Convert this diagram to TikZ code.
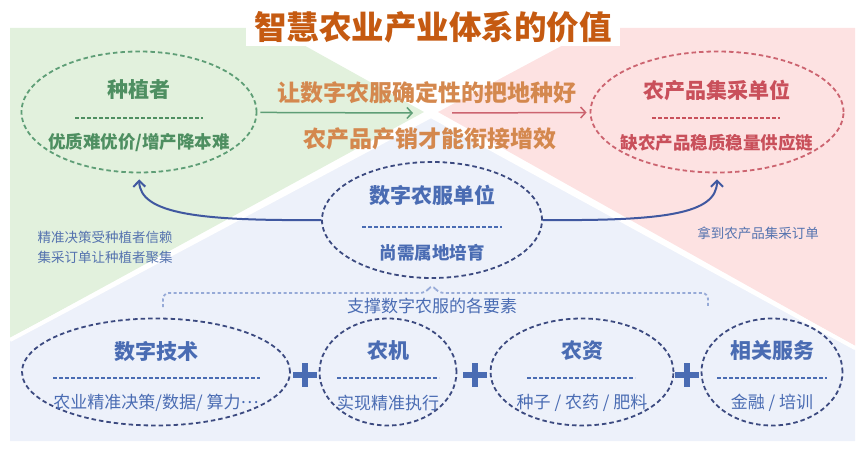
\documentclass[tikz,border=0pt]{standalone}
\usepackage{fontspec}
\setmainfont{Noto Sans CJK SC}
\usetikzlibrary{shapes.geometric,arrows.meta}

\definecolor{titlebrown}{HTML}{C55A11}
\definecolor{midorange}{HTML}{D4884E}
\definecolor{growgreen}{HTML}{4E8F61}
\definecolor{growline}{HTML}{5E9E76}
\definecolor{buyred}{HTML}{C9505B}
\definecolor{buyline}{HTML}{CC6470}
\definecolor{servblue}{HTML}{4A6CB3}
\definecolor{navyline}{HTML}{3C4A80}
\definecolor{arrowblue}{HTML}{4058A0}
\definecolor{notegray}{HTML}{5573AF}
\definecolor{bracegray}{HTML}{96AAD7}
\definecolor{bggreen}{HTML}{E2F1DD}
\definecolor{bgpink}{HTML}{FDE2E2}
\definecolor{bgblue}{HTML}{EDF1FA}

\begin{document}
\begin{tikzpicture}[x=1pt,y=-1pt,
        oval/.style={ellipse,draw,line width=1.8pt,dash pattern=on 4.5pt off 3pt,inner sep=0pt},
        headtext/.style={font=\fontsize{21}{21}\selectfont\bfseries},
        subtext/.style={font=\fontsize{17.5}{18}\selectfont\bfseries},
        basetext/.style={font=\fontsize{17}{17}\selectfont},
        notetext/.style={font=\fontsize{13.5}{14}\selectfont,text=notegray},
        sepline/.style={line width=1.4pt,dash pattern=on 4pt off 2pt},
        backarrow/.style={draw=arrowblue,line width=2pt,-{Straight Barb[length=6pt,width=12pt]}}
    ]
        \useasboundingbox (0,0) rectangle (865,449);

        % 绘制背景三块区域
        \fill[bggreen] (10,28) -- (273,28) -- (424,112) -- (10,338) -- cycle;
        \fill[bgpink] (595,28) -- (855,28) -- (855,346) -- (438,112) -- cycle;
        \fill[bgblue] (431,117) -- (855,350) -- (855,441) -- (10,441) -- (10,341) -- cycle;
        \draw[white,line width=4pt] (10,340) -- (431,116) -- (855,348);

        % 绘制标题
        \node[fill=white,inner xsep=8pt,minimum height=38pt,text=titlebrown,
            font=\fontsize{32.5}{33}\selectfont\bfseries] (title) at (433,27) {智慧农业产业体系的价值};

        % 绘制种植者
        \node[oval,draw=growline,minimum width=235pt,minimum height=121pt] (grower) at (139,112) {};
        \node[headtext,text=growgreen] (growerhead) at (139,90) {种植者};
        \draw[sepline,growgreen] (75,118) -- (203,118);
        \node[subtext,text=growgreen] (growersub) at (139,143) {优质难优价/增产降本难};

        % 绘制农产品集采单位
        \node[oval,draw=buyline,minimum width=253pt,minimum height=121pt] (buyer) at (717,112) {};
        \node[headtext,text=buyred] (buyerhead) at (717,90) {农产品集采单位};
        \draw[sepline,buyred] (652,118) -- (780,118);
        \node[subtext,text=buyred] (buyersub) at (717,143) {缺农产品稳质稳量供应链};

        % 绘制中间的两行字和箭头
        \node[font=\fontsize{23}{23}\selectfont\bfseries,text=midorange] (midtop) at (427,93) {让数字农服确定性的把地种好};
        \node[font=\fontsize{23}{23}\selectfont\bfseries,text=midorange] (midbot) at (430,139) {农产品产销才能衔接增效};
        \coordinate (gtip) at (413,113);
        \coordinate (ptail) at (452,113);
        \draw[draw=growline,line width=1.5pt,-{Straight Barb[length=5pt,width=11pt]},shorten <=3pt] (grower) -- (gtip);
        \draw[draw=buyline,line width=1.5pt,-{Straight Barb[length=5pt,width=11pt]},shorten >=3pt] (ptail) -- (buyer);

        % 绘制数字农服单位
        \node[oval,draw=navyline,minimum width=220pt,minimum height=116pt] (service) at (432,220) {};
        \node[headtext,text=servblue] (servicehead) at (432,195) {数字农服单位};
        \draw[sepline,servblue] (362,227) -- (502,227);
        \node[subtext,text=servblue] (servicesub) at (432,253) {尚需属地培育};

        % 绘制两条弯箭头
        \draw[backarrow,shorten >=6pt] (service.west) .. controls (200,221) and (140,214) .. (grower.south);
        \draw[backarrow,shorten >=6pt] (service.east) .. controls (664,221) and (717,214) .. (buyer.south);
        \node[notetext,anchor=west] (noteone) at (34,237) {精准决策受种植者信赖};
        \node[notetext,anchor=west] (notetwo) at (34,257) {集采订单让种植者聚集};
        \node[notetext] (notethree) at (758,233) {拿到农产品集采订单};

        % 绘制虚线括号
        \draw[bracegray,line width=1.8pt,dash pattern=on 3pt off 2.5pt,rounded corners=6pt]
            (163,307) -- (163,293) -- (426,293) -- (432,284) -- (438,293) -- (708,293) -- (708,307);
        \node[basetext,text=servblue] (bracelabel) at (432,306) {支撑数字农服的各要素};

        % 绘制下方四个要素
        \node[oval,draw=navyline,minimum width=268pt,minimum height=107pt] (tech) at (156,372) {};
        \node[headtext,text=servblue] (techhead) at (156,351) {数字技术};
        \draw[sepline,servblue] (53,378) -- (260,378);
        \node[basetext,text=servblue] (techsub) at (156,403) {农业精准决策/数据/ 算力\raisebox{0.3em}{…}};

        \node[oval,draw=navyline,minimum width=137pt,minimum height=107pt] (machine) at (388,372) {};
        \node[headtext,text=servblue] (machinehead) at (388,351) {农机};
        \draw[sepline,servblue] (337,378) -- (439,378);
        \node[basetext,text=servblue] (machinesub) at (388,403) {实现精准执行};

        \node[oval,draw=navyline,minimum width=183pt,minimum height=107pt] (supply) at (582,372) {};
        \node[headtext,text=servblue] (supplyhead) at (582,351) {农资};
        \draw[sepline,servblue] (527,378) -- (635,378);
        \node[basetext,text=servblue] (supplysub) at (582,403) {种子 / 农药 / 肥料};

        \node[oval,draw=navyline,minimum width=141pt,minimum height=107pt] (related) at (772,372) {};
        \node[headtext,text=servblue] (relatedhead) at (772,351) {相关服务};
        \draw[sepline,servblue] (717,378) -- (827,378);
        \node[basetext,text=servblue] (relatedsub) at (772,403) {金融 / 培训};

        % 绘制加号
        \foreach \px in {305,475,687} {
            \draw[servblue,line width=6pt] (\px-12,375) -- (\px+12,375);
            \draw[servblue,line width=6pt] (\px,363) -- (\px,387);
        }
    \end{tikzpicture}
\end{document}
